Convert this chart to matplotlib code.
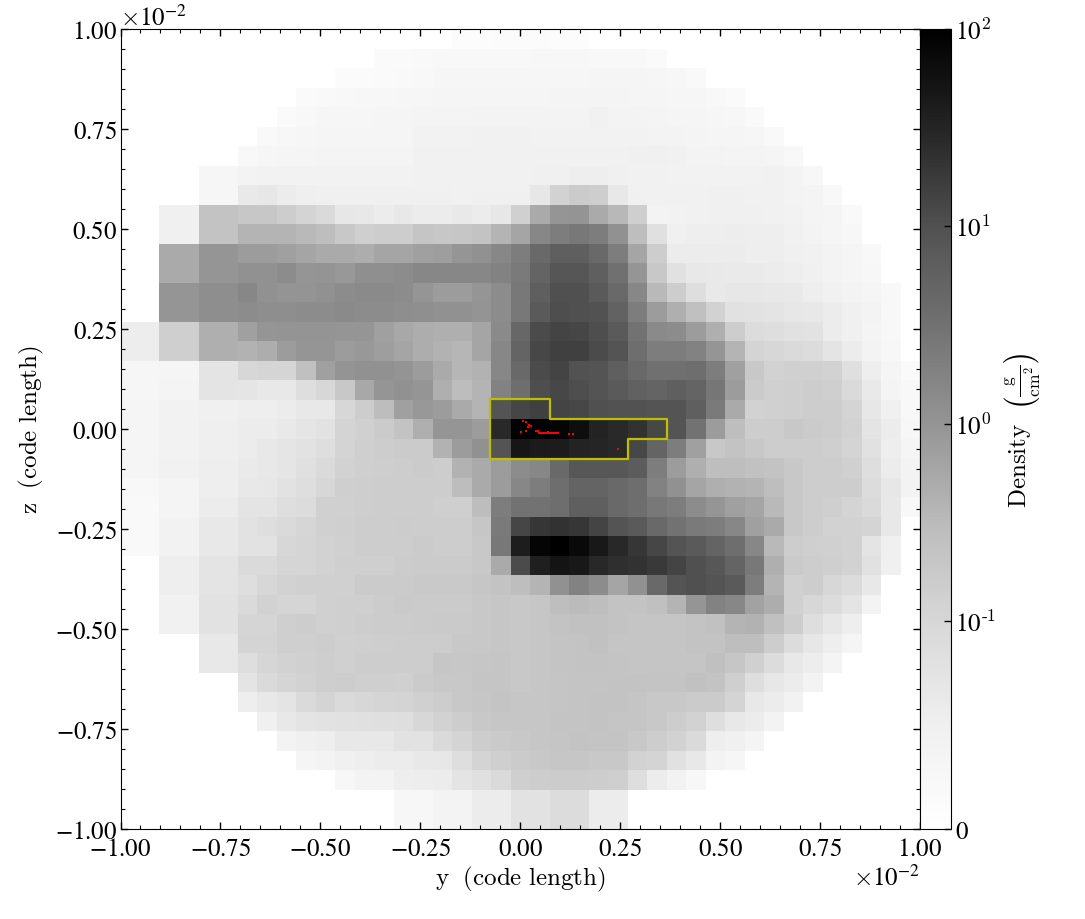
import numpy as np
import matplotlib
matplotlib.use("Agg")
import matplotlib.pyplot as plt
from matplotlib.colors import SymLogNorm
from matplotlib.ticker import MultipleLocator, NullLocator

plt.rcParams['font.family'] = ['STIXGeneral', 'DejaVu Sans']
plt.rcParams['mathtext.fontset'] = 'cm'

# Grey level (0-255) of each cell, top row first.
# start_cols: first non-blank column of each row; the rest of the row is blank.
start_cols = [17,13,11,9,8,7,6,4,4,2,2,2,2,2,2,0,0,0,0,0,0,0,0,0,0,0,0,2,2,2,2,4,4,6,6,7,8,9,11,14,14]
row00 = [252,252,251,251,251,252,252]
row01 = [250,250,249,248,248,248,248,248,247,247,247,248,248,248,250]
row02 = [251,251,250,249,248,246,246,246,246,246,246,246,246,245,245,245,246,247,249]
row03 = [250,249,248,247,247,246,246,245,245,245,245,245,245,244,244,244,244,245,245,246,246,248,250]
row04 = [250,248,246,246,246,245,245,244,244,244,243,243,243,243,243,243,241,243,243,244,245,245,246,247,249]
row05 = [249,247,246,245,245,245,245,245,242,242,242,241,241,241,242,242,242,242,242,242,243,243,244,245,245,246,249]
row06 = [248,246,245,245,244,244,244,244,244,241,241,241,241,241,241,241,241,241,241,241,240,240,241,243,243,244,244,245,248]
row07 = [246,246,243,242,242,242,242,242,242,242,242,241,241,241,241,241,241,240,240,238,238,240,241,241,242,242,242,242,242,241,243,247]
row08 = [246,246,233,231,236,239,240,240,240,240,240,240,240,241,240,240,240,230,210,203,206,232,240,241,241,241,240,240,241,241,243,244,248]
row09 = [240,240,195,195,199,199,205,212,218,230,232,235,232,235,235,233,235,230,208,170,150,148,170,183,207,243,242,241,240,240,240,241,242,244,245,249]
row10 = [240,240,195,195,180,180,180,185,190,200,207,205,205,197,199,198,195,180,165,135,125,120,125,145,190,224,240,238,238,237,238,238,241,243,245,247]
row11 = [170,170,150,150,155,155,160,165,170,170,172,165,165,160,158,150,145,135,125,105,95,95,105,125,165,205,236,236,236,236,238,238,240,241,243,245,248]
row12 = [170,170,150,150,145,145,140,150,148,152,143,143,140,135,135,135,135,130,122,100,87,87,95,112,150,200,225,232,233,234,234,235,238,240,243,245,247]
row13 = [150,150,142,142,135,145,148,148,145,140,138,138,140,150,155,155,150,140,120,95,80,80,90,105,135,185,205,222,233,231,231,232,233,238,241,243,245,248]
row14 = [150,150,142,142,140,142,142,140,140,138,140,140,142,143,145,145,148,140,120,90,78,80,82,98,125,155,175,192,210,225,226,228,230,232,236,240,243,248]
row15 = [237,237,207,207,175,175,160,150,148,148,148,150,150,160,168,172,175,175,165,138,103,75,68,70,78,90,115,138,140,155,175,205,220,222,225,226,236,240,244,248]
row16 = [237,237,207,207,175,175,178,172,155,150,150,155,152,158,165,172,178,182,165,135,100,72,65,65,75,85,110,125,125,130,150,180,212,215,217,220,228,235,243,247]
row17 = [246,246,245,245,228,228,215,213,213,192,160,148,145,145,148,155,170,182,178,135,105,75,68,82,85,95,105,112,112,110,125,160,200,210,208,208,210,223,238,245,250]
row18 = [246,246,244,244,228,228,229,232,232,222,215,200,168,150,145,150,175,188,180,130,110,78,72,78,85,90,97,100,95,100,118,155,203,208,207,205,207,217,233,244,248]
row19 = [245,245,242,242,240,240,238,238,235,232,232,215,205,188,160,152,155,170,180,85,70,65,68,72,80,82,83,85,85,95,122,170,210,208,207,205,205,212,230,240,248]
row20 = [245,245,242,242,239,239,236,235,233,229,226,212,208,203,195,175,150,150,155,42,0,0,5,15,35,42,50,72,85,115,155,190,205,205,200,203,205,210,228,235,247]
row21 = [245,245,242,242,239,239,235,232,229,226,222,212,207,205,203,203,178,155,145,85,22,27,28,35,38,40,72,100,125,160,200,195,200,205,205,205,207,212,225,238,245]
row22 = [245,245,241,241,238,238,234,232,229,224,218,210,207,206,205,203,205,178,170,155,140,135,105,88,88,88,92,125,155,175,190,190,193,195,200,205,205,208,222,235,243]
row23 = [248,248,244,244,238,238,232,230,226,222,215,207,206,205,205,205,205,188,170,155,135,125,110,100,100,105,110,130,145,165,175,178,180,190,200,205,205,205,220,230,243]
row24 = [249,249,244,244,236,236,228,228,222,220,208,208,206,205,205,205,207,207,188,125,115,115,110,95,95,105,110,120,125,140,150,160,165,185,200,205,207,212,218,232,248]
row25 = [249,249,242,242,232,232,226,222,218,214,208,207,205,205,204,205,205,205,198,122,70,55,50,55,68,85,90,105,115,122,125,135,160,170,200,205,210,210,212,232]
row26 = [249,249,242,242,232,232,226,226,215,213,210,208,205,205,205,203,205,205,200,120,30,5,0,10,25,40,55,70,85,90,100,110,135,185,205,207,208,210,228,240]
row27 = [238,238,228,228,218,218,213,213,210,207,207,207,204,203,203,203,200,170,75,32,20,25,40,48,50,58,68,80,88,100,120,175,202,205,207,210,225,240]
row28 = [238,238,228,228,222,215,210,208,208,208,203,203,203,201,201,201,198,195,190,180,145,130,140,165,145,105,85,80,85,90,125,180,208,205,215,220,232]
row29 = [241,241,226,226,218,210,213,213,208,207,207,204,202,203,203,203,200,198,200,198,190,187,190,195,195,192,180,150,130,135,162,172,208,215,220,228,243]
row30 = [241,241,226,226,213,213,207,205,208,207,205,204,204,203,202,202,200,198,200,198,195,193,193,195,197,197,197,195,193,180,178,192,205,222,230,238]
row31 = [232,232,212,212,207,207,205,208,207,206,205,205,204,200,200,198,200,198,196,195,193,197,197,197,197,195,195,190,190,205,220,230,238,245]
row32 = [232,232,222,214,210,208,206,208,205,205,205,205,198,199,198,197,200,198,196,195,195,196,197,197,197,197,192,198,208,220,232,237,244]
row33 = [228,218,213,210,206,205,207,207,208,203,200,200,197,197,200,198,197,196,196,195,195,196,196,193,195,207,222,230,235,243]
row34 = [238,232,228,218,212,218,215,213,212,208,205,200,198,196,198,198,197,196,195,195,197,200,200,203,203,212,232,235,242]
row35 = [240,232,228,226,225,224,223,222,215,210,205,200,198,198,198,196,196,195,197,197,200,205,210,222,232,236,243]
row36 = [243,240,238,232,232,232,226,226,217,212,205,202,200,198,197,195,196,196,200,205,210,218,238,240,244]
row37 = [245,243,240,238,236,235,232,230,222,212,207,203,200,198,198,200,200,210,212,225,232,243,246]
row38 = [247,243,243,238,237,236,228,224,218,207,205,204,204,205,207,222,235,242,247]
row39 = [247,247,243,243,236,236,226,226,220,220,236,236]
row40 = [247,247,243,243,236,236,226,226,220,220,236,236]
shade_rows = [row00,row01,row02,row03,row04,row05,row06,row07,row08,row09,row10,
              row11,row12,row13,row14,row15,row16,row17,row18,row19,row20,row21,
              row22,row23,row24,row25,row26,row27,row28,row29,row30,row31,row32,
              row33,row34,row35,row36,row37,row38,row39,row40]

# Particles (y, z) in units of 1e-2 code length
particle_y = [0.0079,0.0146,0.0229,0.0271,0.0196,0.0012,0.0146,0.0388,0.0454,0.046,0.050,0.054,0.058,0.062,0.066,
              0.070,0.074,0.078,0.082,0.086,0.090,0.094,0.0696,0.1213,0.1313,0.2446]
particle_z = [0.0192,0.0167,0.0108,0.0083,0.0050,-0.0067,-0.0058,-0.0050,-0.0050,-0.0092,-0.0092,-0.0092,-0.0092,-0.0092,-0.0092,
              -0.0092,-0.0092,-0.0092,-0.0092,-0.0092,-0.0092,-0.0092,-0.0067,-0.0117,-0.0125,-0.0508]

# Outline of the yellow region, in grid columns / rows
outline_cols = [18.94,22,22,28.03,28.03,26.03,26.03,18.94,18.94]
outline_rows = [18.95,18.95,19.97,19.97,21.02,21.02,22.03,22.03,18.95]

NCELL = 41
SCALE = 1e-2
cmap = plt.get_cmap('Greys')
norm = SymLogNorm(linthresh=0.1, linscale=0.947, vmin=0.0, vmax=100.0, base=10)

lut = cmap(np.linspace(0, 1, 256))[:, 0] * 255
shade = np.full((NCELL, NCELL), 255.0)
for r, vals in enumerate(shade_rows):
    shade[r, start_cols[r]:start_cols[r] + len(vals)] = vals
frac = np.interp(shade, lut[::-1], np.linspace(1, 0, 256))
density = np.asarray(norm.inverse(np.clip(frac, 0, 1)))

y_edges = np.linspace(-1, 1, NCELL + 1) * SCALE
z_edges = np.linspace(1, -1, NCELL + 1) * SCALE

fig = plt.figure(figsize=(10.85, 9.20), dpi=100)
ax = fig.add_axes([120.5 / 1085, 90 / 920, 799.5 / 1085, 800 / 920])
mesh = ax.pcolormesh(y_edges, z_edges, density, cmap=cmap, norm=norm,
                     shading='flat', antialiased=False, linewidth=0)

ax.plot(np.interp(outline_cols, np.arange(NCELL + 1), y_edges),
        np.interp(outline_rows, np.arange(NCELL + 1), z_edges),
        color=(0.75, 0.75, 0.0), lw=1.6, solid_joinstyle='round')
ax.scatter(np.array(particle_y) * SCALE, np.array(particle_z) * SCALE,
           s=3, c='red', marker='s', linewidths=0, zorder=4)

ax.set_xlim(-SCALE, SCALE)
ax.set_ylim(-SCALE, SCALE)
for axis in (ax.xaxis, ax.yaxis):
    axis.set_major_locator(MultipleLocator(0.25 * SCALE))
    axis.set_minor_locator(MultipleLocator(0.05 * SCALE))
ax.ticklabel_format(style='sci', scilimits=(0, 0), useMathText=True)
ax.tick_params(which='both', direction='in', top=True, right=True, labelsize=18)
ax.tick_params(which='major', length=5, width=1, pad=6)
ax.tick_params(axis='y', which='major', pad=2.5)
ax.tick_params(which='minor', length=3, width=0.8)
ax.xaxis.get_offset_text().set_fontsize(18)
ax.yaxis.get_offset_text().set_fontsize(18)
ax.set_xlabel(r'$\rm{y}\ \ \rm{(code\ length)}$', fontsize=18, labelpad=2)
ax.set_ylabel(r'$\rm{z}\ \ \rm{(code\ length)}$', fontsize=18, labelpad=6)

cax = fig.add_axes([920 / 1085, 90 / 920, 30.5 / 1085, 800 / 920])
cb = fig.colorbar(mesh, cax=cax)
cb.set_ticks([0, 0.1, 1, 10, 100])
cb.set_ticklabels(['0', r'10$^{\mathrm{\text{-}1}}$', r'10$^{\mathrm{0}}$',
                   r'10$^{\mathrm{1}}$', r'10$^{\mathrm{2}}$'])
cax.yaxis.set_minor_locator(NullLocator())
cax.tick_params(which='major', direction='in', length=5, width=1, labelsize=18, pad=3.5)
cb.set_label(r'$\rm{Density}\ \ \left(\frac{\rm{g}}{\rm{cm}^{2}}\right)$', fontsize=18, labelpad=4)

fig.savefig('out.png', dpi=100)
